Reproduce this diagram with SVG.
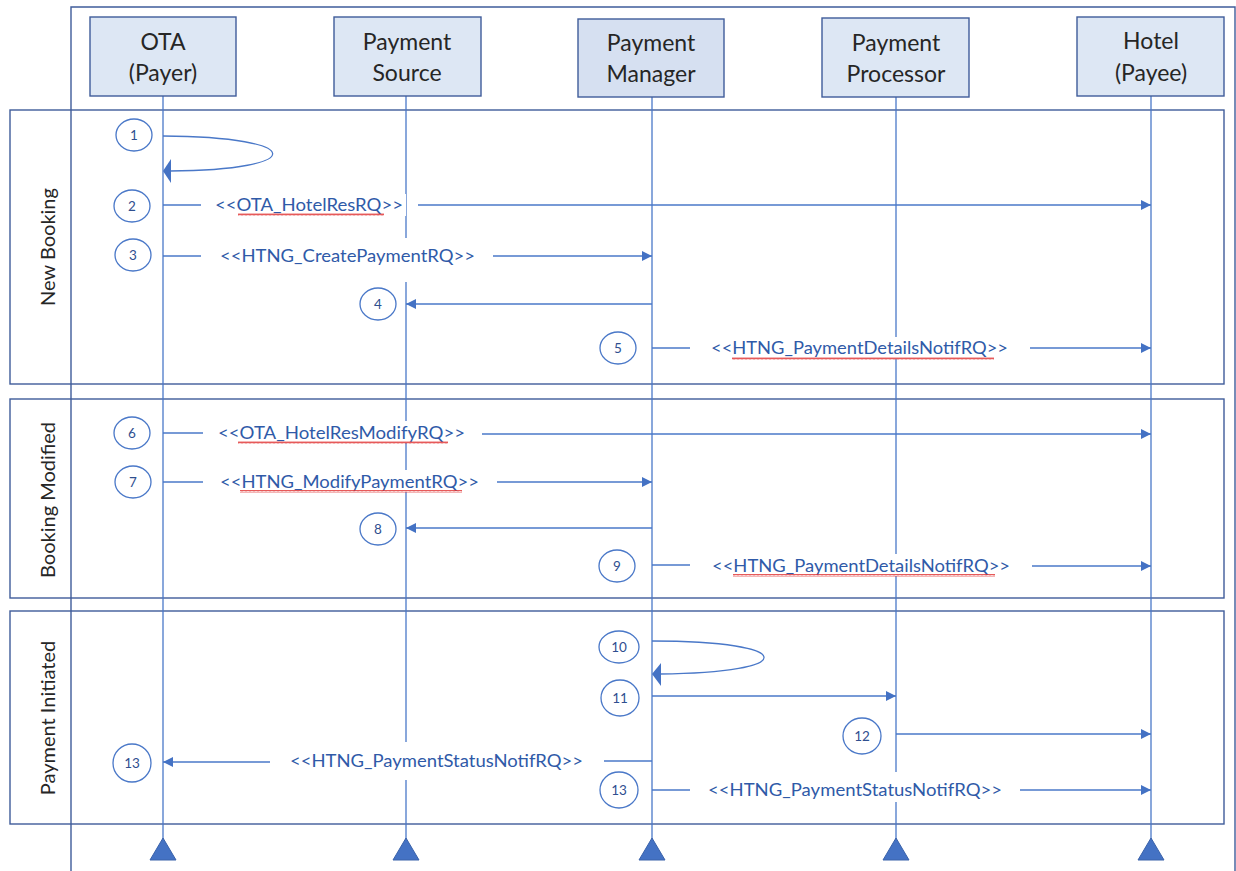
<svg xmlns="http://www.w3.org/2000/svg" width="1236" height="871" viewBox="0 0 1236 871">
  <defs>
    <style>
      .frame { fill: none; stroke: #3f5c9a; stroke-width: 1.4; }
      .head rect { fill: #dde7f4; stroke: #3f5c9a; stroke-width: 1.4; }
      .head text { font-family: "Lato", "Liberation Sans", sans-serif; font-size: 23px; fill: #262626; text-anchor: middle; }
      .life { stroke: #4a78c8; stroke-width: 1.3; fill: none; }
      .end { fill: #4472c4; stroke: #3a62aa; stroke-width: 1; }
      .sect { font-family: "Lato", "Liberation Sans", sans-serif; font-size: 20px; fill: #262626; text-anchor: middle; }
      .msg { stroke: #4a78c8; stroke-width: 1.3; fill: none; }
      .lbl { font-family: "Lato", "Liberation Sans", sans-serif; font-size: 17.5px; fill: #2f5aa8; }
      .bg { fill: #ffffff; }
      .num ellipse { fill: #ffffff; stroke: #4a78c8; stroke-width: 1.3; }
      .num text { font-family: "Lato", "Liberation Sans", sans-serif; font-size: 13.5px; fill: #2f4f8f; text-anchor: middle; }
      .tip { fill: #4472c4; }
    </style>
    <marker id="arr" viewBox="0 0 10 10" refX="10" refY="5" markerWidth="10" markerHeight="10" markerUnits="userSpaceOnUse" orient="auto">
      <path d="M0,0 L10,5 L0,10 z" fill="#4472c4"/>
    </marker>
    <pattern id="squiggle" width="4" height="3" patternUnits="userSpaceOnUse">
      <path d="M0,2.5 L1,0.5 L2,2.5 L3,0.5 L4,2.5" fill="none" stroke="#e03030" stroke-width="0.8"/>
    </pattern>
  </defs>

  <rect width="1236" height="871" fill="#ffffff"/>

  <!-- outer frame -->
  <path class="frame" d="M71,871 L71,7 L1235,7 L1235,871"/>

  <!-- section frames -->
  <g id="section-new-booking">
    <rect class="frame" x="10" y="110" width="1214" height="274"/>
    <text class="sect" transform="translate(55,247) rotate(-90)">New Booking</text>
  </g>
  <g id="section-booking-modified">
    <rect class="frame" x="10" y="399" width="1214" height="199"/>
    <text class="sect" transform="translate(55,500) rotate(-90)">Booking Modified</text>
  </g>
  <g id="section-payment-initiated">
    <rect class="frame" x="10" y="611" width="1214" height="213"/>
    <text class="sect" transform="translate(55,718) rotate(-90)">Payment Initiated</text>
  </g>

  <!-- lifelines -->
  <g id="lifelines">
    <line class="life" x1="163" y1="96" x2="163" y2="840"/>
    <line class="life" x1="406" y1="96" x2="406" y2="840"/>
    <line class="life" x1="652" y1="97" x2="652" y2="840"/>
    <line class="life" x1="896" y1="97" x2="896" y2="840"/>
    <line class="life" x1="1151" y1="96" x2="1151" y2="840"/>
  </g>

  <!-- participants -->
  <g id="ota" class="head">
    <rect x="90" y="17" width="146" height="79"/>
    <text x="163" y="50">OTA</text>
    <text x="163" y="81">(Payer)</text>
    <polygon class="end" points="163,838 176,860 150,860"/>
  </g>
  <g id="payment-source" class="head">
    <rect x="334" y="17" width="147" height="79"/>
    <text x="407" y="50">Payment</text>
    <text x="407" y="81">Source</text>
    <polygon class="end" points="406,838 419,860 393,860"/>
  </g>
  <g id="payment-manager" class="head">
    <rect x="578" y="19" width="146" height="78" style="fill:#d6e0f1"/>
    <text x="651" y="51">Payment</text>
    <text x="651" y="82">Manager</text>
    <polygon class="end" points="652,838 665,860 639,860"/>
  </g>
  <g id="payment-processor" class="head">
    <rect x="822" y="18" width="147" height="79"/>
    <text x="896" y="51">Payment</text>
    <text x="896" y="82">Processor</text>
    <polygon class="end" points="896,838 909,860 883,860"/>
  </g>
  <g id="hotel" class="head">
    <rect x="1077" y="17" width="147" height="79"/>
    <text x="1151" y="49">Hotel</text>
    <text x="1151" y="81">(Payee)</text>
    <polygon class="end" points="1151,838 1164,860 1138,860"/>
  </g>

  <!-- messages -->
  <g id="connectors">
    <!-- 1: OTA self call -->
    <path class="msg" d="M163,136 C308,137 308,170 170,171"/>
    <polygon class="tip" points="163,171 171,159 171,183"/>

    <!-- 2 -->
    <line class="msg" x1="163" y1="205" x2="201" y2="205"/>
    <line class="msg" x1="418" y1="205" x2="1151" y2="205" marker-end="url(#arr)"/>
    <rect class="bg" x="212" y="194" width="194" height="22"/>
    <text class="lbl" x="215" y="211" textLength="188" lengthAdjust="spacingAndGlyphs">&lt;&lt;OTA_HotelResRQ&gt;&gt;</text>
    <rect x="238" y="213" width="146" height="3" fill="url(#squiggle)"/>

    <!-- 3 -->
    <line class="msg" x1="163" y1="256" x2="201" y2="256"/>
    <line class="msg" x1="493" y1="256" x2="652" y2="256" marker-end="url(#arr)"/>
    <rect class="bg" x="214" y="238" width="266" height="44"/>
    <text class="lbl" x="220" y="262" textLength="255" lengthAdjust="spacingAndGlyphs">&lt;&lt;HTNG_CreatePaymentRQ&gt;&gt;</text>

    <!-- 4 -->
    <line class="msg" x1="652" y1="304" x2="406" y2="304" marker-end="url(#arr)"/>

    <!-- 5 -->
    <line class="msg" x1="652" y1="348" x2="690" y2="348"/>
    <line class="msg" x1="1030" y1="348" x2="1151" y2="348" marker-end="url(#arr)"/>
    <rect class="bg" x="706" y="337" width="308" height="22"/>
    <text class="lbl" x="711" y="354" textLength="297" lengthAdjust="spacingAndGlyphs">&lt;&lt;HTNG_PaymentDetailsNotifRQ&gt;&gt;</text>
    <rect x="732" y="357" width="262" height="3" fill="url(#squiggle)"/>

    <!-- 6 -->
    <line class="msg" x1="163" y1="433" x2="203" y2="433"/>
    <line class="msg" x1="482" y1="434" x2="1151" y2="434" marker-end="url(#arr)"/>
    <rect class="bg" x="214" y="421" width="256" height="22"/>
    <text class="lbl" x="218" y="439" textLength="247" lengthAdjust="spacingAndGlyphs">&lt;&lt;OTA_HotelResModifyRQ&gt;&gt;</text>
    <rect x="238" y="441" width="210" height="3" fill="url(#squiggle)"/>

    <!-- 7 -->
    <line class="msg" x1="163" y1="482" x2="203" y2="482"/>
    <line class="msg" x1="497" y1="482" x2="652" y2="482" marker-end="url(#arr)"/>
    <rect class="bg" x="216" y="470" width="268" height="22"/>
    <text class="lbl" x="220" y="488" textLength="259" lengthAdjust="spacingAndGlyphs">&lt;&lt;HTNG_ModifyPaymentRQ&gt;&gt;</text>
    <rect x="240" y="490" width="222" height="3" fill="url(#squiggle)"/>

    <!-- 8 -->
    <line class="msg" x1="652" y1="528" x2="406" y2="528" marker-end="url(#arr)"/>

    <!-- 9 -->
    <line class="msg" x1="652" y1="565" x2="690" y2="565"/>
    <line class="msg" x1="1032" y1="566" x2="1151" y2="566" marker-end="url(#arr)"/>
    <rect class="bg" x="707" y="554" width="308" height="22"/>
    <text class="lbl" x="712" y="572" textLength="298" lengthAdjust="spacingAndGlyphs">&lt;&lt;HTNG_PaymentDetailsNotifRQ&gt;&gt;</text>
    <rect x="733" y="574" width="262" height="3" fill="url(#squiggle)"/>

    <!-- 10: Payment Manager self call -->
    <path class="msg" d="M652,641 C800,641 800,673 660,674"/>
    <polygon class="tip" points="652,674 661,663 661,686"/>

    <!-- 11 -->
    <line class="msg" x1="652" y1="696" x2="896" y2="696" marker-end="url(#arr)"/>

    <!-- 12 -->
    <line class="msg" x1="896" y1="734" x2="1151" y2="734" marker-end="url(#arr)"/>

    <!-- 13: back to OTA -->
    <line class="msg" x1="652" y1="761" x2="604" y2="761"/>
    <line class="msg" x1="270" y1="762" x2="163" y2="762" marker-end="url(#arr)"/>
    <rect class="bg" x="284" y="742" width="305" height="38"/>
    <text class="lbl" x="290" y="767" textLength="293" lengthAdjust="spacingAndGlyphs">&lt;&lt;HTNG_PaymentStatusNotifRQ&gt;&gt;</text>

    <!-- 13: on to Hotel -->
    <line class="msg" x1="652" y1="790" x2="690" y2="790"/>
    <line class="msg" x1="1020" y1="790" x2="1151" y2="790" marker-end="url(#arr)"/>
    <rect class="bg" x="703" y="772" width="304" height="30"/>
    <text class="lbl" x="708" y="796" textLength="294" lengthAdjust="spacingAndGlyphs">&lt;&lt;HTNG_PaymentStatusNotifRQ&gt;&gt;</text>
  </g>

  <!-- step numbers -->
  <g id="step-numbers" class="num">
    <ellipse cx="134" cy="135" rx="18" ry="16"/><text x="134" y="140">1</text>
    <ellipse cx="132" cy="206" rx="18" ry="16"/><text x="132" y="211">2</text>
    <ellipse cx="133" cy="255" rx="18" ry="16"/><text x="133" y="260">3</text>
    <ellipse cx="378" cy="304" rx="18" ry="16"/><text x="378" y="309">4</text>
    <ellipse cx="618" cy="348" rx="18" ry="16"/><text x="618" y="353">5</text>
    <ellipse cx="132" cy="433" rx="18" ry="16"/><text x="132" y="438">6</text>
    <ellipse cx="133" cy="482" rx="18" ry="16"/><text x="133" y="487">7</text>
    <ellipse cx="378" cy="529" rx="18" ry="16"/><text x="378" y="534">8</text>
    <ellipse cx="617" cy="566" rx="18" ry="16"/><text x="617" y="571">9</text>
    <ellipse cx="619" cy="647" rx="20" ry="16"/><text x="619" y="652">10</text>
    <ellipse cx="620" cy="698" rx="19" ry="18"/><text x="620" y="703">11</text>
    <ellipse cx="862" cy="736" rx="19" ry="18"/><text x="862" y="741">12</text>
    <ellipse cx="132" cy="763" rx="19" ry="19"/><text x="132" y="768">13</text>
    <ellipse cx="619" cy="790" rx="19" ry="18"/><text x="619" y="795">13</text>
  </g>
</svg>
